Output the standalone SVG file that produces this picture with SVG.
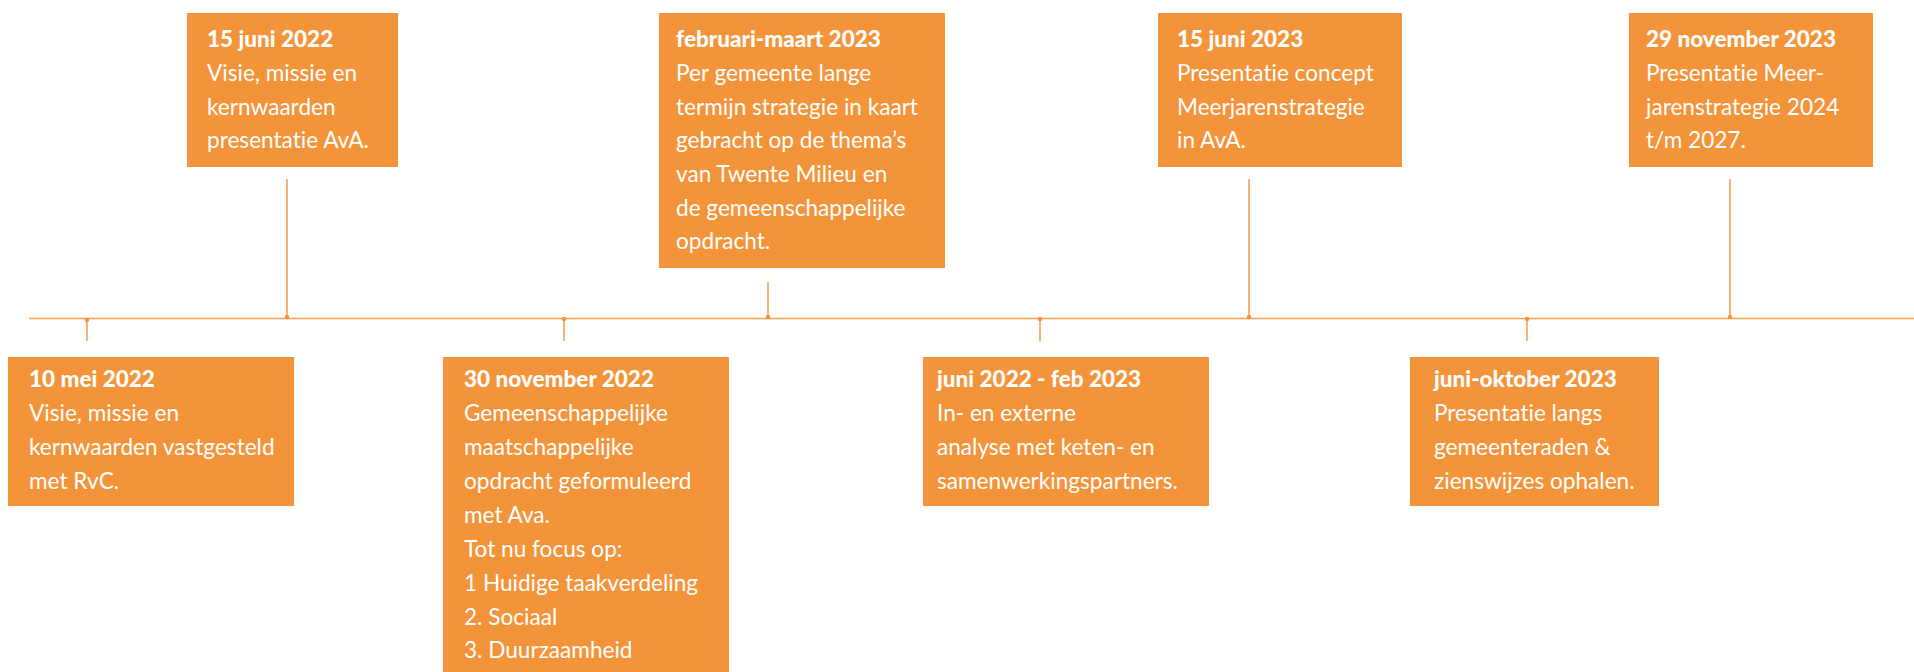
<svg xmlns="http://www.w3.org/2000/svg" width="1914" height="672" viewBox="0 0 1914 672">
<style>
.box{fill:#F4943A}
.t{font-family:Lato,"Open Sans","Liberation Sans",sans-serif;fill:#ffffff;font-variant-ligatures:none;font-feature-settings:"liga" 0,"clig" 0}
.h{font-size:22.5px;font-weight:900}
.b{font-size:22.6px;font-weight:400}
.ln{stroke:#F4A055;stroke-width:1.6;fill:none}
.dot{fill:#F4943A}
</style>
<rect width="1914" height="672" fill="#ffffff"/>
<g id="connectors">
<line class="ln" x1="29" y1="318.5" x2="1914" y2="318.5"/>
<line class="ln" x1="87" y1="319" x2="87" y2="341"/>
<circle class="dot" cx="87" cy="320" r="2.2"/>
<line class="ln" x1="287" y1="179" x2="287" y2="318"/>
<circle class="dot" cx="287" cy="317" r="2.2"/>
<line class="ln" x1="564" y1="319" x2="564" y2="341"/>
<circle class="dot" cx="564" cy="319" r="2.2"/>
<line class="ln" x1="768" y1="282" x2="768" y2="318"/>
<circle class="dot" cx="768" cy="317" r="2.2"/>
<line class="ln" x1="1040" y1="319" x2="1040" y2="341"/>
<circle class="dot" cx="1040" cy="319" r="2.2"/>
<line class="ln" x1="1249" y1="179" x2="1249" y2="318"/>
<circle class="dot" cx="1249" cy="317" r="2.2"/>
<line class="ln" x1="1527" y1="319" x2="1527" y2="341"/>
<circle class="dot" cx="1527" cy="319" r="2.2"/>
<line class="ln" x1="1730" y1="179" x2="1730" y2="318"/>
<circle class="dot" cx="1730" cy="317" r="2.2"/>
</g>
<g id="node-10mei2022">
<rect class="box" x="8" y="357" width="286" height="149"/>
<text class="t h" x="29" y="387">10 mei 2022</text>
<text class="t b" x="29" y="421">Visie, missie en</text>
<text class="t b" x="29" y="455">kernwaarden vastgesteld</text>
<text class="t b" x="29" y="489">met RvC.</text>
</g>
<g id="node-15juni2022">
<rect class="box" x="187" y="13" width="211" height="154"/>
<text class="t h" x="207" y="47">15 juni 2022</text>
<text class="t b" x="207" y="81">Visie, missie en</text>
<text class="t b" x="207" y="114.5">kernwaarden</text>
<text class="t b" x="207" y="148">presentatie AvA.</text>
</g>
<g id="node-30nov2022">
<rect class="box" x="443" y="357" width="286" height="330"/>
<text class="t h" x="464" y="387">30 november 2022</text>
<text class="t b" x="464" y="421">Gemeenschappelijke</text>
<text class="t b" x="464" y="455">maatschappelijke</text>
<text class="t b" x="464" y="489">opdracht geformuleerd</text>
<text class="t b" x="464" y="522.5">met Ava.</text>
<text class="t b" x="464" y="556.5">Tot nu focus op:</text>
<text class="t b" x="464" y="590.5">1 Huidige taakverdeling</text>
<text class="t b" x="464" y="624.5">2. Sociaal</text>
<text class="t b" x="464" y="658">3. Duurzaamheid</text>
</g>
<g id="node-febmaart2023">
<rect class="box" x="659" y="13" width="286" height="255"/>
<text class="t h" x="676" y="47">februari-maart 2023</text>
<text class="t b" x="676" y="81">Per gemeente lange</text>
<text class="t b" x="676" y="114.5">termijn strategie in kaart</text>
<text class="t b" x="676" y="148">gebracht op de thema’s</text>
<text class="t b" x="676" y="182">van Twente Milieu en</text>
<text class="t b" x="676" y="215.5">de gemeenschappelijke</text>
<text class="t b" x="676" y="249">opdracht.</text>
</g>
<g id="node-juni2022feb2023">
<rect class="box" x="923" y="357" width="286" height="149"/>
<text class="t h" x="937" y="387">juni 2022 - feb 2023</text>
<text class="t b" x="937" y="421">In- en externe</text>
<text class="t b" x="937" y="455">analyse met keten- en</text>
<text class="t b" x="937" y="489">samenwerkingspartners.</text>
</g>
<g id="node-15juni2023">
<rect class="box" x="1158" y="13" width="244" height="154"/>
<text class="t h" x="1177" y="47">15 juni 2023</text>
<text class="t b" x="1177" y="81">Presentatie concept</text>
<text class="t b" x="1177" y="114.5">Meerjarenstrategie</text>
<text class="t b" x="1177" y="148">in AvA.</text>
</g>
<g id="node-junioktober2023">
<rect class="box" x="1410" y="357" width="249" height="149"/>
<text class="t h" x="1434" y="387">juni-oktober 2023</text>
<text class="t b" x="1434" y="421">Presentatie langs</text>
<text class="t b" x="1434" y="455">gemeenteraden &amp;</text>
<text class="t b" x="1434" y="489">zienswijzes ophalen.</text>
</g>
<g id="node-29nov2023">
<rect class="box" x="1629" y="13" width="244" height="154"/>
<text class="t h" x="1646" y="47">29 november 2023</text>
<text class="t b" x="1646" y="81">Presentatie Meer-</text>
<text class="t b" x="1646" y="114.5">jarenstrategie 2024</text>
<text class="t b" x="1646" y="148">t/m 2027.</text>
</g>
</svg>
